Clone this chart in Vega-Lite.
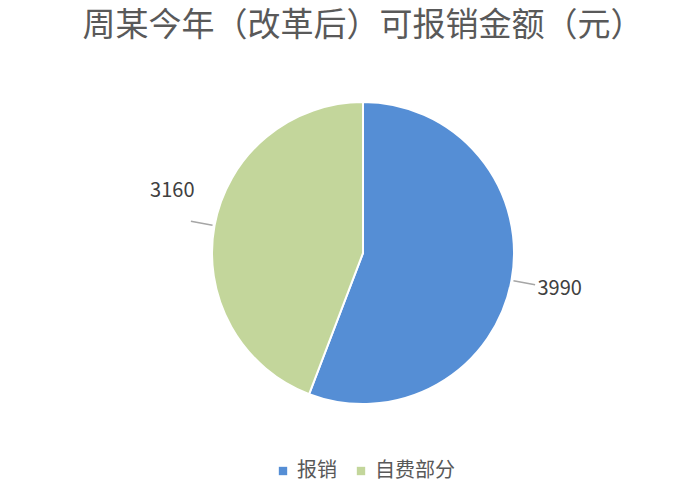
{
  "$schema": "https://vega.github.io/schema/vega-lite/v6.json",
  "width": 674,
  "height": 412,
  "autosize": {"type": "none"},
  "padding": {"left": 26, "top": 47, "right": 0, "bottom": 30},
  "title": {
    "text": "周某今年（改革后）可报销金额（元）",
    "font": "Noto Sans CJK SC",
    "fontSize": 33,
    "fontWeight": "normal",
    "color": "#595959",
    "offset": 4
  },
  "data": {
    "values": [
      {"category": "报销", "amount": 3990, "idx": 1},
      {"category": "自费部分", "amount": 3160, "idx": 2}
    ]
  },
  "layer": [
    {
      "mark": {"type": "arc", "outerRadius": 151, "stroke": "white", "strokeWidth": 2},
      "encoding": {
        "theta": {"field": "amount", "type": "quantitative", "stack": true},
        "order": {"field": "idx", "type": "quantitative"},
        "color": {
          "field": "category",
          "type": "nominal",
          "scale": {"domain": ["报销", "自费部分"], "range": ["#558ED5", "#C3D69B"]},
          "legend": {
            "orient": "none",
            "legendX": 247,
            "legendY": 414,
            "direction": "horizontal",
            "title": null,
            "symbolType": "square",
            "symbolSize": 70,
            "symbolStrokeWidth": 0,
            "labelFontSize": 20,
            "labelColor": "#595959",
            "labelFont": "Noto Sans CJK SC",
            "columnPadding": 14
          }
        }
      }
    },
    {
      "transform": [
        {"stack": "amount", "groupby": [], "sort": [{"field": "idx", "order": "ascending"}], "as": ["a0", "a1"]}
      ],
      "mark": {
        "type": "arc",
        "innerRadius": 153,
        "outerRadius": 175,
        "padAngle": 3.14,
        "thetaOffset": 0.2,
        "theta2Offset": -0.2,
        "fillOpacity": 0,
        "fill": "white",
        "stroke": "#A6A6A6",
        "strokeWidth": 1.5
      },
      "encoding": {
        "theta": {"field": "a0", "type": "quantitative"},
        "theta2": {"field": "a1"}
      }
    },
    {
      "mark": {"type": "text", "radius": 200, "fontSize": 20, "color": "#404040", "font": "Noto Sans CJK SC"},
      "encoding": {
        "theta": {"field": "amount", "type": "quantitative", "stack": true},
        "order": {"field": "idx", "type": "quantitative"},
        "detail": {"field": "category"},
        "text": {
          "condition": {"test": "datum.category === '报销'", "field": "amount", "type": "quantitative"},
          "value": ""
        }
      }
    },
    {
      "mark": {"type": "text", "radius": 200, "dx": 6, "dy": -26, "fontSize": 20, "color": "#404040", "font": "Noto Sans CJK SC"},
      "encoding": {
        "theta": {"field": "amount", "type": "quantitative", "stack": true},
        "order": {"field": "idx", "type": "quantitative"},
        "detail": {"field": "category"},
        "text": {
          "condition": {"test": "datum.category === '自费部分'", "field": "amount", "type": "quantitative"},
          "value": ""
        }
      }
    }
  ],
  "config": {"view": {"stroke": null}, "font": "Noto Sans CJK SC"}
}
